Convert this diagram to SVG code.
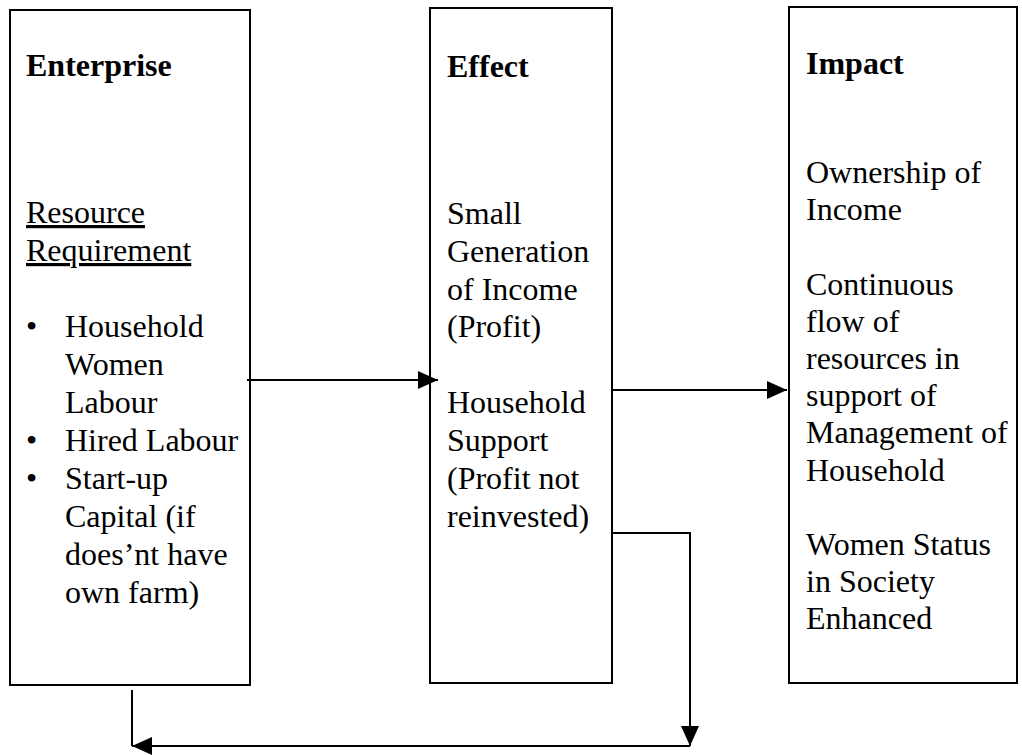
<svg xmlns="http://www.w3.org/2000/svg" width="1022" height="755" viewBox="0 0 1022 755">
<style>
.box{fill:#fff;stroke:#000;stroke-width:2}
.t{font-family:"Liberation Serif","Times New Roman",serif;font-size:32px;fill:#000}
.h{font-weight:bold}
.u{text-decoration:underline}
.c{fill:none;stroke:#000;stroke-width:2}
</style>
<defs>
<marker id="ah" viewBox="0 0 20 18" refX="20" refY="9" markerWidth="20" markerHeight="18" markerUnits="userSpaceOnUse" orient="auto">
<path d="M0,0 L20,9 L0,18 z" fill="#000"/>
</marker>
</defs>
<rect width="1022" height="755" fill="#fff"/>
<g id="enterprise">
<rect class="box" x="10" y="10" width="240" height="675"/>
<text class="t h" x="26" y="76">Enterprise</text>
<text class="t u" x="26" y="223">Resource</text>
<text class="t u" x="26" y="261">Requirement</text>
<text class="t" x="26" y="337">•</text><text class="t" x="65" y="337">Household</text>
<text class="t" x="65" y="375">Women</text>
<text class="t" x="65" y="413">Labour</text>
<text class="t" x="26" y="451">•</text><text class="t" x="65" y="451">Hired Labour</text>
<text class="t" x="26" y="489">•</text><text class="t" x="65" y="489">Start-up</text>
<text class="t" x="65" y="527">Capital (if</text>
<text class="t" x="65" y="565">does’nt have</text>
<text class="t" x="65" y="603">own farm)</text>
</g>
<g id="effect">
<rect class="box" x="430" y="8" width="182" height="675"/>
<text class="t h" x="447" y="77">Effect</text>
<text class="t" x="447" y="224">Small</text>
<text class="t" x="447" y="262">Generation</text>
<text class="t" x="447" y="300">of Income</text>
<text class="t" x="447" y="337">(Profit)</text>
<text class="t" x="447" y="413">Household</text>
<text class="t" x="447" y="451">Support</text>
<text class="t" x="447" y="489">(Profit not</text>
<text class="t" x="447" y="527">reinvested)</text>
</g>
<g id="impact">
<rect class="box" x="789" y="7" width="228" height="676"/>
<text class="t h" x="806" y="74">Impact</text>
<text class="t" x="806" y="183">Ownership of</text>
<text class="t" x="806" y="220">Income</text>
<text class="t" x="806" y="295">Continuous</text>
<text class="t" x="806" y="332">flow of</text>
<text class="t" x="806" y="369">resources in</text>
<text class="t" x="806" y="406">support of</text>
<text class="t" x="806" y="443">Management of</text>
<text class="t" x="806" y="481">Household</text>
<text class="t" x="806" y="555">Women Status</text>
<text class="t" x="806" y="592">in Society</text>
<text class="t" x="806" y="629">Enhanced</text>
</g>
<g id="connectors">
<path class="c" d="M247,380 H438" marker-end="url(#ah)"/>
<path class="c" d="M612,390 H787" marker-end="url(#ah)"/>
<path class="c" d="M612,533 H690 V746" marker-end="url(#ah)"/>
<path class="c" d="M690,746 H132" marker-end="url(#ah)"/>
<path class="c" d="M132,690 V746"/>
</g>
</svg>
